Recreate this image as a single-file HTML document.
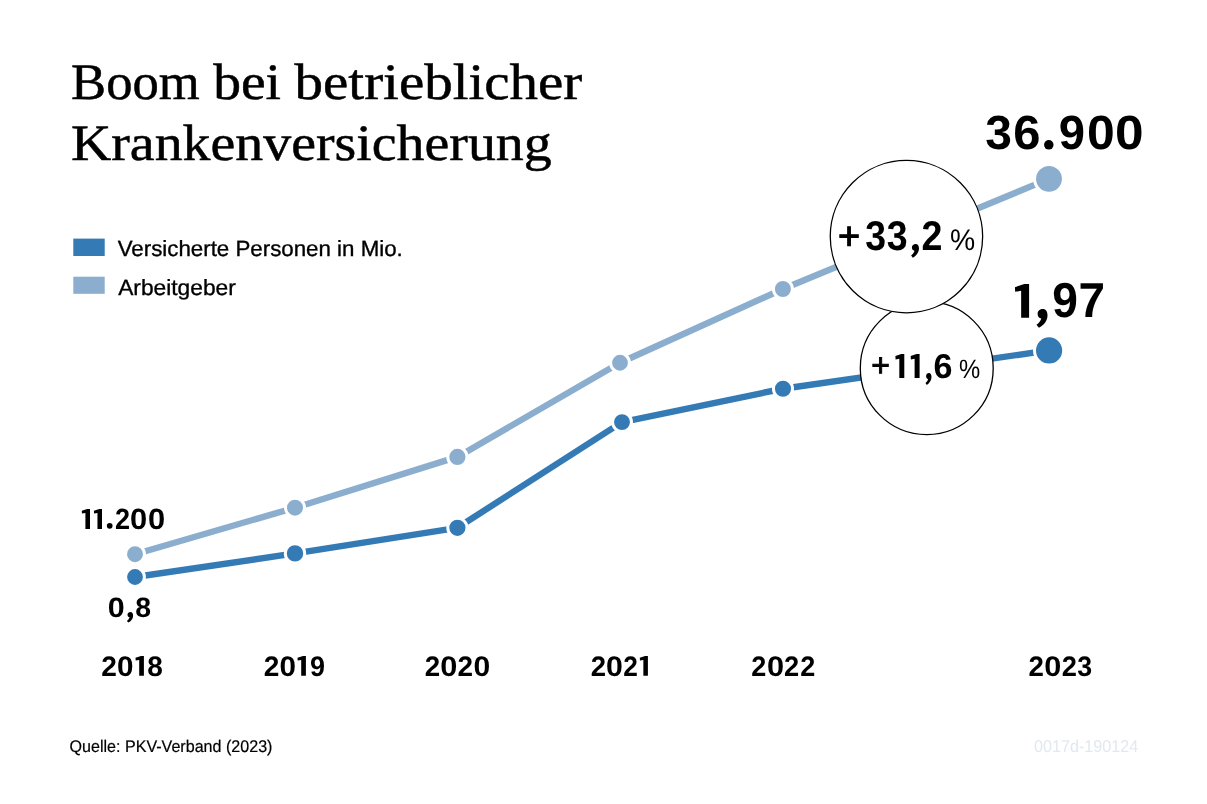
<!DOCTYPE html>
<html><head><meta charset="utf-8">
<style>
html,body{margin:0;padding:0;background:#fff;width:1207px;height:804px;overflow:hidden}
svg{display:block;will-change:transform}
</style></head>
<body>
<svg width="1207" height="804" viewBox="0 0 1207 804" text-rendering="geometricPrecision">
<rect width="1207" height="804" fill="#fff"/>
<g>
<rect x="73.3" y="238.6" width="31.4" height="17.4" fill="#347ab5"/>
<rect x="73.3" y="276.7" width="31.4" height="17.1" fill="#8caece"/>
<polyline fill="none" stroke="#8caece" stroke-width="6.4" stroke-linejoin="round" points="135,554.2 295,507.7 457.4,456.9 620,362.75 782.9,289.0 1049,178.85"/>
<polyline fill="none" stroke="#347ab5" stroke-width="6.4" stroke-linejoin="round" points="135,577 295,553.4 457.4,527.8 622,422.1 783,388.75 1049.1,350.4"/>
<circle cx="135" cy="554.2" r="9.45" fill="#8caece" stroke="#fff" stroke-width="3"/>
<circle cx="295" cy="507.7" r="9.5" fill="#8caece" stroke="#fff" stroke-width="3"/>
<circle cx="457.4" cy="456.9" r="9.6" fill="#8caece" stroke="#fff" stroke-width="3"/>
<circle cx="620" cy="362.75" r="9.4" fill="#8caece" stroke="#fff" stroke-width="3"/>
<circle cx="782.9" cy="289.0" r="9.5" fill="#8caece" stroke="#fff" stroke-width="3"/>
<circle cx="1049" cy="178.85" r="14.45" fill="#8caece" stroke="#fff" stroke-width="3"/>
<circle cx="135" cy="577" r="9.4" fill="#347ab5" stroke="#fff" stroke-width="3"/>
<circle cx="295" cy="553.4" r="9.7" fill="#347ab5" stroke="#fff" stroke-width="3"/>
<circle cx="457.4" cy="527.8" r="9.6" fill="#347ab5" stroke="#fff" stroke-width="3"/>
<circle cx="622" cy="422.1" r="9.45" fill="#347ab5" stroke="#fff" stroke-width="3"/>
<circle cx="783" cy="388.75" r="9.55" fill="#347ab5" stroke="#fff" stroke-width="3"/>
<circle cx="1049.1" cy="350.4" r="14.6" fill="#347ab5" stroke="#fff" stroke-width="3"/>

<circle cx="926.75" cy="368.15" r="66.45" fill="#fff" stroke="#000" stroke-width="1.3"/>
<circle cx="906.45" cy="236.6" r="76.2" fill="#fff" stroke="#000" stroke-width="1.3"/>
</g>
<g><circle cx="109.7" cy="525.85" r="2.85" fill="#000"/><circle cx="1048.8" cy="144.85" r="4.75" fill="#000"/><path d="M1,0L1,1L0.44,1L0.44,0.2L0.02,0.23L0,0.09L0.66,0Z" fill="#000" transform="translate(135.5 656) scale(8.400 19.700)"/><path d="M1,0L1,1L0.44,1L0.44,0.2L0.02,0.23L0,0.09L0.66,0Z" fill="#000" transform="translate(297.5 656) scale(8.400 19.700)"/><path d="M1,0L1,1L0.44,1L0.44,0.2L0.02,0.23L0,0.09L0.66,0Z" fill="#000" transform="translate(639.8 656) scale(8.100 19.700)"/><path d="M1,0L1,1L0.44,1L0.44,0.2L0.02,0.23L0,0.09L0.66,0Z" fill="#000" transform="translate(81.8 509) scale(8.200 19.900)"/><path d="M1,0L1,1L0.44,1L0.44,0.2L0.02,0.23L0,0.09L0.66,0Z" fill="#000" transform="translate(93.9 509) scale(8.100 19.900)"/><path d="M1,0L1,1L0.44,1L0.44,0.2L0.02,0.23L0,0.09L0.66,0Z" fill="#000" transform="translate(1014.9 284.1) scale(14.200 33.700)"/><path d="M1,0L1,1L0.44,1L0.44,0.2L0.02,0.23L0,0.09L0.66,0Z" fill="#000" transform="translate(895.4 353.9) scale(8.900 24.000)"/><path d="M1,0L1,1L0.44,1L0.44,0.2L0.02,0.23L0,0.09L0.66,0Z" fill="#000" transform="translate(910.7 353.9) scale(8.900 24.000)"/><path d="M0.1,0.25C0.1,0.1 0.33,0 0.58,0C0.85,0 1,0.14 1,0.34C1,0.62 0.66,0.87 0.22,1L0,0.84C0.26,0.72 0.4,0.6 0.43,0.5C0.22,0.48 0.1,0.4 0.1,0.25Z" fill="#000" transform="translate(126.9 612.1) scale(6.200 10.500)"/><path d="M0.1,0.25C0.1,0.1 0.33,0 0.58,0C0.85,0 1,0.14 1,0.34C1,0.62 0.66,0.87 0.22,1L0,0.84C0.26,0.72 0.4,0.6 0.43,0.5C0.22,0.48 0.1,0.4 0.1,0.25Z" fill="#000" transform="translate(1036.5 309.1) scale(11.000 18.700)"/><path d="M0.1,0.25C0.1,0.1 0.33,0 0.58,0C0.85,0 1,0.14 1,0.34C1,0.62 0.66,0.87 0.22,1L0,0.84C0.26,0.72 0.4,0.6 0.43,0.5C0.22,0.48 0.1,0.4 0.1,0.25Z" fill="#000" transform="translate(911.1 243.9) scale(7.900 13.800)"/><path d="M0.1,0.25C0.1,0.1 0.33,0 0.58,0C0.85,0 1,0.14 1,0.34C1,0.62 0.66,0.87 0.22,1L0,0.84C0.26,0.72 0.4,0.6 0.43,0.5C0.22,0.48 0.1,0.4 0.1,0.25Z" fill="#000" transform="translate(925.5 373) scale(6.000 11.900)"/></g>
<text id="t1a" x="71.06" y="99.20" font-family="Liberation Serif" font-size="51.00" textLength="128.67" lengthAdjust="spacingAndGlyphs" fill="#000" stroke="#000" stroke-width="0.5">Boom</text>
<text id="t1b" x="213.15" y="99.20" font-family="Liberation Serif" font-size="51.00" textLength="67.85" lengthAdjust="spacingAndGlyphs" fill="#000" stroke="#000" stroke-width="0.5">bei</text>
<text id="t1c" x="294.57" y="99.20" font-family="Liberation Serif" font-size="51.00" textLength="287.79" lengthAdjust="spacingAndGlyphs" fill="#000" stroke="#000" stroke-width="0.5">betrieblicher</text>
<text id="t2" x="70.95" y="160.20" font-family="Liberation Serif" font-size="51.00" textLength="480.75" lengthAdjust="spacingAndGlyphs" fill="#000" stroke="#000" stroke-width="0.5">Krankenversicherung</text>
<text id="leg1t" x="117.73" y="256.00" font-family="Liberation Sans" font-size="22.00" textLength="285.05" lengthAdjust="spacingAndGlyphs" fill="#000" stroke="#000" stroke-width="0.35">Versicherte Personen in Mio.</text>
<text id="leg2t" x="118.19" y="294.60" font-family="Liberation Sans" font-size="22.00" textLength="117.60" lengthAdjust="spacingAndGlyphs" fill="#000" stroke="#000" stroke-width="0.35">Arbeitgeber</text>
<text id="foot" x="69.50" y="751.80" font-family="Liberation Sans" font-size="16.80" textLength="202.96" lengthAdjust="spacingAndGlyphs" fill="#000" stroke="#000" stroke-width="0.2">Quelle: PKV-Verband (2023)</text>
<text id="wm" x="1034.00" y="751.50" font-family="Liberation Sans" font-size="17.20" textLength="104.22" lengthAdjust="spacingAndGlyphs" fill="#e1e8f0">0017d-190124</text>
<text id="pl33" x="837.96" y="248.56" font-family="Liberation Sans" font-size="38.50" textLength="22.14" lengthAdjust="spacingAndGlyphs" fill="#000" stroke="#000" stroke-width="1.1">+</text>
<text id="pc33" x="949.90" y="250.18" font-family="Liberation Sans" font-size="29.79" textLength="25.17" lengthAdjust="spacingAndGlyphs" fill="#000">%</text>
<text id="pl11" x="871.19" y="376.07" font-family="Liberation Sans" font-size="32.03" textLength="18.66" lengthAdjust="spacingAndGlyphs" fill="#000" stroke="#000" stroke-width="0.9">+</text>
<text id="pc11" x="958.88" y="377.60" font-family="Liberation Sans" font-size="26.49" textLength="21.21" lengthAdjust="spacingAndGlyphs" fill="#000">%</text>
<text id="y18_0" x="101.32" y="675.60" font-family="Liberation Sans" font-size="28.20" font-weight="bold" textLength="15.63" lengthAdjust="spacingAndGlyphs" fill="#000">2</text>
<text id="y18_1" x="117.07" y="675.60" font-family="Liberation Sans" font-size="28.20" font-weight="bold" textLength="16.50" lengthAdjust="spacingAndGlyphs" fill="#000">0</text>
<text id="y18_2" x="147.15" y="675.60" font-family="Liberation Sans" font-size="28.20" font-weight="bold" textLength="15.60" lengthAdjust="spacingAndGlyphs" fill="#000">8</text>
<text id="y19_0" x="263.74" y="675.60" font-family="Liberation Sans" font-size="28.20" font-weight="bold" textLength="15.61" lengthAdjust="spacingAndGlyphs" fill="#000">2</text>
<text id="y19_1" x="279.49" y="675.60" font-family="Liberation Sans" font-size="28.20" font-weight="bold" textLength="16.48" lengthAdjust="spacingAndGlyphs" fill="#000">0</text>
<text id="y19_2" x="309.94" y="675.60" font-family="Liberation Sans" font-size="28.20" font-weight="bold" textLength="15.01" lengthAdjust="spacingAndGlyphs" fill="#000">9</text>
<text id="y20_0" x="424.80" y="675.60" font-family="Liberation Sans" font-size="28.20" font-weight="bold" textLength="15.41" lengthAdjust="spacingAndGlyphs" fill="#000">2</text>
<text id="y20_1" x="440.22" y="675.60" font-family="Liberation Sans" font-size="28.20" font-weight="bold" textLength="17.10" lengthAdjust="spacingAndGlyphs" fill="#000">0</text>
<text id="y20_2" x="457.59" y="675.60" font-family="Liberation Sans" font-size="28.20" font-weight="bold" textLength="15.54" lengthAdjust="spacingAndGlyphs" fill="#000">2</text>
<text id="y20_3" x="473.40" y="675.60" font-family="Liberation Sans" font-size="28.20" font-weight="bold" textLength="16.74" lengthAdjust="spacingAndGlyphs" fill="#000">0</text>
<text id="y21_0" x="590.67" y="675.60" font-family="Liberation Sans" font-size="28.20" font-weight="bold" textLength="15.31" lengthAdjust="spacingAndGlyphs" fill="#000">2</text>
<text id="y21_1" x="605.91" y="675.60" font-family="Liberation Sans" font-size="28.20" font-weight="bold" textLength="16.86" lengthAdjust="spacingAndGlyphs" fill="#000">0</text>
<text id="y21_2" x="623.29" y="675.60" font-family="Liberation Sans" font-size="28.20" font-weight="bold" textLength="14.63" lengthAdjust="spacingAndGlyphs" fill="#000">2</text>
<text id="y22_0" x="751.26" y="675.60" font-family="Liberation Sans" font-size="28.20" font-weight="bold" textLength="15.05" lengthAdjust="spacingAndGlyphs" fill="#000">2</text>
<text id="y22_1" x="767.02" y="675.60" font-family="Liberation Sans" font-size="28.20" font-weight="bold" textLength="17.11" lengthAdjust="spacingAndGlyphs" fill="#000">0</text>
<text id="y22_2" x="783.89" y="675.60" font-family="Liberation Sans" font-size="28.20" font-weight="bold" textLength="15.17" lengthAdjust="spacingAndGlyphs" fill="#000">2</text>
<text id="y22_3" x="800.26" y="675.60" font-family="Liberation Sans" font-size="28.20" font-weight="bold" textLength="15.05" lengthAdjust="spacingAndGlyphs" fill="#000">2</text>
<text id="y23_0" x="1028.40" y="675.60" font-family="Liberation Sans" font-size="28.20" font-weight="bold" textLength="15.41" lengthAdjust="spacingAndGlyphs" fill="#000">2</text>
<text id="y23_1" x="1044.26" y="675.60" font-family="Liberation Sans" font-size="28.20" font-weight="bold" textLength="17.05" lengthAdjust="spacingAndGlyphs" fill="#000">0</text>
<text id="y23_2" x="1061.67" y="675.60" font-family="Liberation Sans" font-size="28.20" font-weight="bold" textLength="15.18" lengthAdjust="spacingAndGlyphs" fill="#000">2</text>
<text id="y23_3" x="1077.21" y="675.60" font-family="Liberation Sans" font-size="28.20" font-weight="bold" textLength="14.86" lengthAdjust="spacingAndGlyphs" fill="#000">3</text>
<text id="v11_0" x="114.95" y="528.80" font-family="Liberation Sans" font-size="29.40" font-weight="bold" textLength="15.05" lengthAdjust="spacingAndGlyphs" fill="#000">2</text>
<text id="v11_1" x="130.11" y="528.80" font-family="Liberation Sans" font-size="29.40" font-weight="bold" textLength="17.21" lengthAdjust="spacingAndGlyphs" fill="#000">0</text>
<text id="v11_2" x="148.08" y="528.80" font-family="Liberation Sans" font-size="29.40" font-weight="bold" textLength="17.18" lengthAdjust="spacingAndGlyphs" fill="#000">0</text>
<text id="v08_0" x="107.75" y="616.50" font-family="Liberation Sans" font-size="27.90" font-weight="bold" textLength="16.94" lengthAdjust="spacingAndGlyphs" fill="#000">0</text>
<text id="v08_1" x="135.16" y="616.50" font-family="Liberation Sans" font-size="27.90" font-weight="bold" textLength="15.81" lengthAdjust="spacingAndGlyphs" fill="#000">8</text>
<text id="v36_0" x="985.24" y="148.90" font-family="Liberation Sans" font-size="47.90" font-weight="bold" textLength="26.66" lengthAdjust="spacingAndGlyphs" fill="#000">3</text>
<text id="v36_1" x="1013.18" y="148.90" font-family="Liberation Sans" font-size="47.90" font-weight="bold" textLength="27.22" lengthAdjust="spacingAndGlyphs" fill="#000">6</text>
<text id="v36_2" x="1058.72" y="148.90" font-family="Liberation Sans" font-size="47.90" font-weight="bold" textLength="26.27" lengthAdjust="spacingAndGlyphs" fill="#000">9</text>
<text id="v36_3" x="1086.91" y="148.90" font-family="Liberation Sans" font-size="47.90" font-weight="bold" textLength="27.77" lengthAdjust="spacingAndGlyphs" fill="#000">0</text>
<text id="v36_4" x="1115.06" y="148.90" font-family="Liberation Sans" font-size="47.90" font-weight="bold" textLength="28.60" lengthAdjust="spacingAndGlyphs" fill="#000">0</text>
<text id="v19_0" x="1052.13" y="317.40" font-family="Liberation Sans" font-size="49.10" font-weight="bold" textLength="25.67" lengthAdjust="spacingAndGlyphs" fill="#000">9</text>
<text id="v19_1" x="1078.38" y="317.40" font-family="Liberation Sans" font-size="49.10" font-weight="bold" textLength="26.57" lengthAdjust="spacingAndGlyphs" fill="#000">7</text>
<text id="n33_0" x="865.36" y="249.60" font-family="Liberation Sans" font-size="41.70" font-weight="bold" textLength="20.82" lengthAdjust="spacingAndGlyphs" fill="#000">3</text>
<text id="n33_1" x="886.76" y="249.60" font-family="Liberation Sans" font-size="41.70" font-weight="bold" textLength="20.86" lengthAdjust="spacingAndGlyphs" fill="#000">3</text>
<text id="n33_2" x="921.58" y="249.60" font-family="Liberation Sans" font-size="41.70" font-weight="bold" textLength="20.92" lengthAdjust="spacingAndGlyphs" fill="#000">2</text>
<text id="n11_0" x="933.62" y="377.50" font-family="Liberation Sans" font-size="34.50" font-weight="bold" textLength="18.96" lengthAdjust="spacingAndGlyphs" fill="#000">6</text>
</svg>
</body></html>
